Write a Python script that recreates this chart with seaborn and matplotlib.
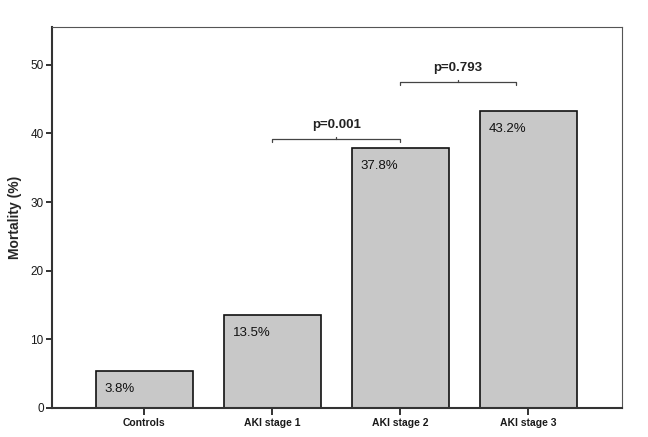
import matplotlib
matplotlib.use("Agg")
import matplotlib.pyplot as plt
import seaborn as sns
import pandas as pd

categories = ["Controls", "AKI stage 1", "AKI stage 2", "AKI stage 3"]
bar_heights = [5.4, 13.5, 37.9, 43.3]
bar_labels = ["3.8%", "13.5%", "37.8%", "43.2%"]
comparisons = [(1, 2, 39.2, "p=0.001"), (2, 2.9, 47.5, "p=0.793")]
y_ticks = [0, 10, 20, 30, 40, 50]

sns.set_theme(style="white")
plt.rcParams['font.family'] = ['Liberation Sans', 'DejaVu Sans']

df = pd.DataFrame({"group": categories, "mortality": bar_heights})

fig = plt.figure(figsize=(6.48, 4.37), dpi=100)
ax = fig.add_axes([52/648, 1 - 408/437, (622-52)/648, (408-27)/437])
sns.barplot(data=df, x="group", y="mortality", ax=ax, color="#c8c8c8",
            saturation=1, width=0.76, edgecolor="#111111", linewidth=1.2)

ax.set_xlim(-0.72, 3.73)
ax.set_ylim(0, 55.5)
ax.set_yticks(y_ticks)
ax.set_yticklabels([str(t) for t in y_ticks], fontsize=8.5)
ax.set_xticks(range(len(categories)))
ax.set_xticklabels(categories, fontsize=7.5, fontweight="bold")
ax.set_xlabel("")
ax.set_ylabel("Mortality (%)", fontsize=10, fontweight="bold", labelpad=6)
ax.tick_params(axis="both", which="major", direction="out", length=4, width=1.3,
               color="#222222", labelcolor="#1a1a1a", pad=2,
               bottom=True, left=True, top=False, right=False)
ax.tick_params(axis="x", length=5)

for s in ["left", "bottom"]:
    ax.spines[s].set_color("#333333")
    ax.spines[s].set_linewidth(1.5)
for s in ["top", "right"]:
    ax.spines[s].set_color("#555555")
    ax.spines[s].set_linewidth(0.8)

for i, (h, lab) in enumerate(zip(bar_heights, bar_labels)):
    ax.text(i - 0.38 + 0.07, h - 2.6, lab, fontsize=9.5, ha="left", va="center",
            color="#111111")

for x0, x1, y, txt in comparisons:
    ax.plot([x0, x0, x1, x1], [y - 0.4, y, y, y - 0.4], color="#444444", lw=0.9)
    xm = (x0 + x1) / 2
    ax.plot([xm, xm], [y, y + 0.3], color="#444444", lw=0.9)
    ax.text(xm, y + 1.2, txt, fontsize=9.5, fontweight="bold", ha="center",
            va="bottom", color="#222222")

fig.savefig("out.png", dpi=100, facecolor="white")
